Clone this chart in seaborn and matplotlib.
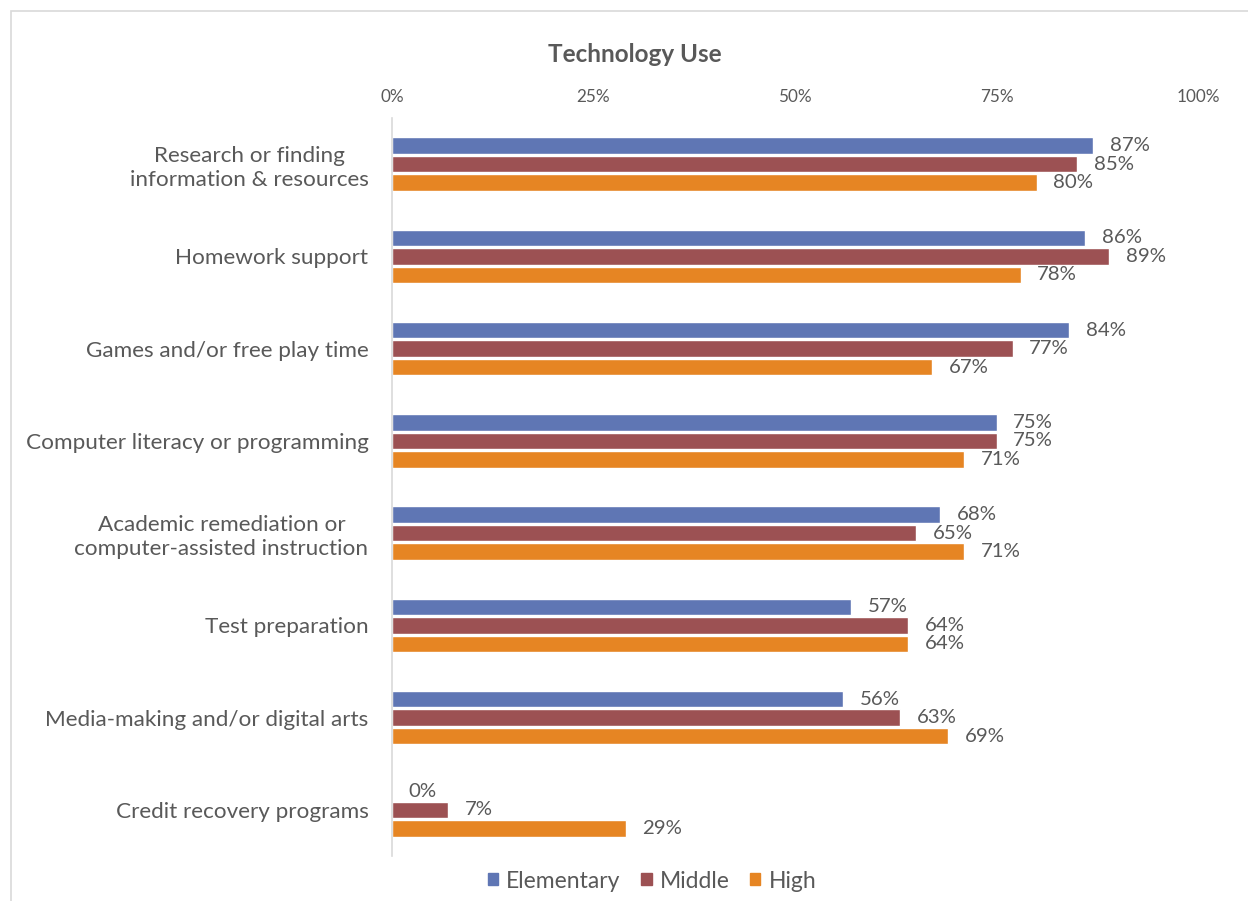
import matplotlib
matplotlib.use("Agg")
import matplotlib.pyplot as plt
from matplotlib.patches import Rectangle
import seaborn as sns
import pandas as pd

categories = [
    "Research or finding\ninformation & resources",
    "Homework support",
    "Games and/or free play time",
    "Computer literacy or programming",
    "Academic remediation or\ncomputer-assisted instruction",
    "Test preparation",
    "Media-making and/or digital arts",
    "Credit recovery programs",
]
levels = ["Elementary", "Middle", "High"]
elementary = [87, 86, 84, 75, 68, 57, 56, 0]
middle = [85, 89, 77, 75, 65, 64, 63, 7]
high = [80, 78, 67, 71, 71, 64, 69, 29]
x_ticks = [0, 25, 50, 75, 100]
x_tick_labels = ["0%", "25%", "50%", "75%", "100%"]
colors = ["#5F76B4", "#9C5153", "#E68523"]

rows = []
for lvl, vals in zip(levels, [elementary, middle, high]):
    for c, v in zip(categories, vals):
        rows.append({"category": c, "level": lvl, "value": v})
df = pd.DataFrame(rows)

sns.set_theme(style="white")
plt.rcParams["font.family"] = ["Lato", "DejaVu Sans"]
txt = "#595959"

fig = plt.figure(figsize=(12.48, 9.01), dpi=100)
ax = fig.add_axes([392 / 1248, 1 - 856 / 901, (1198 - 392) / 1248, (856 - 118) / 901])

sns.barplot(data=df, x="value", y="category", hue="level", orient="h",
            palette=colors, width=0.6, gap=0.1, ax=ax, legend=False,
            order=categories, hue_order=levels, saturation=1)

for cont in ax.containers:
    ax.bar_label(cont, labels=[f"{b.get_width():.0f}%" for b in cont],
                 padding=12, fontsize=14.7, color=txt)

ax.set_xlim(0, 100)
ax.set_ylim(7.5, -0.5)
ax.set_xticks(x_ticks)
ax.set_xticklabels(x_tick_labels, fontsize=12.3, color=txt)
ax.xaxis.tick_top()
ax.tick_params(axis="x", length=0, pad=9)
ax.tick_params(axis="y", length=0, pad=17, labelsize=16.2, labelcolor=txt)
for lab in ax.get_yticklabels():
    lab.set_multialignment("center")
    lab.set_linespacing(1.25)
ax.set_xlabel("")
ax.set_ylabel("")
for s in ["top", "right", "bottom"]:
    ax.spines[s].set_visible(False)
ax.spines["left"].set_color("#d9d9d9")
ax.spines["left"].set_linewidth(1.2)

fig.text(635 / 1248, 1 - 55 / 901, "Technology Use", ha="center", va="center",
         fontsize=17.5, fontweight="bold", color=txt)

handles = [Rectangle((0, 0), 1, 1, color=c) for c in colors]
fig.legend(handles, levels, loc="center", bbox_to_anchor=(652 / 1248, 1 - 881 / 901),
           ncol=3, frameon=False, fontsize=16.5, labelcolor=txt,
           handlelength=0.45, handleheight=0.45, handletextpad=0.35, columnspacing=0.9)

fig.patches.append(Rectangle((11 / 1248, -0.05), 1.2, 1 - 11 / 901 + 0.05,
                             transform=fig.transFigure, fill=False,
                             edgecolor="#d9d9d9", linewidth=1.2))

fig.savefig("out.png", dpi=100)
